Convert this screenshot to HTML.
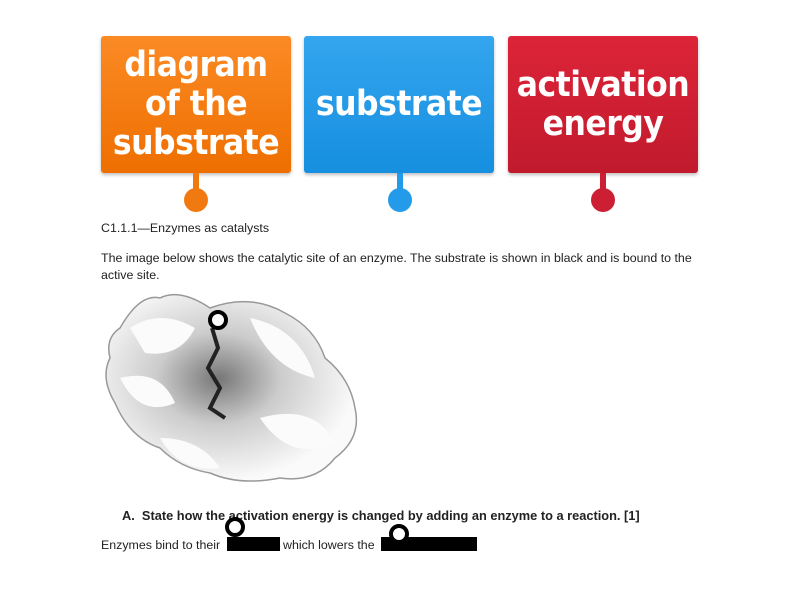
<!DOCTYPE html>
<html><head><style>
body{margin:0;width:800px;height:600px;background:#fff;position:relative;overflow:hidden;font-family:"Liberation Sans",sans-serif}
.b{position:absolute;top:36px;height:137px;width:190px;border-radius:3px;color:#fff;text-align:center;display:flex;align-items:center;justify-content:center;font-size:35px;font-weight:bold;line-height:39px;box-shadow:0 2px 3px rgba(0,0,0,.25);font-family:"DejaVu Sans Condensed","Liberation Sans Narrow",sans-serif;letter-spacing:-0.5px}
.s{position:absolute;top:173px;width:6px;height:20px}
.c{position:absolute;top:188px;width:24px;height:24px;border-radius:50%}
.t{position:absolute;font-size:12.4px;color:#222}
.ring{position:absolute;width:12px;height:12px;border:4px solid #000;border-radius:50%;background:#fff}
</style></head><body>
<div class="b" style="left:101px;background:linear-gradient(#fb8a25,#ee6f00)">diagram<br>of the<br>substrate</div>
<div class="b" style="left:304px;background:linear-gradient(#34a5ee,#168fe0)">substrate</div>
<div class="b" style="left:508px;background:linear-gradient(#dd2438,#c11a2d)">activation<br>energy</div>
<div class="s" style="left:193px;background:#f07a10"></div><div class="c" style="left:184px;background:#f07a10"></div>
<div class="s" style="left:397px;background:#239be8"></div><div class="c" style="left:388px;background:#239be8"></div>
<div class="s" style="left:600px;background:#cc1f33"></div><div class="c" style="left:591px;background:#cc1f33"></div>
<div class="t" style="left:101px;top:221px">C1.1.1—Enzymes as catalysts</div>
<div class="t" style="left:101px;top:250px;line-height:17px;width:600px">The image below shows the catalytic site of an enzyme. The substrate is shown in black and is bound to the active site.</div>
<svg style="position:absolute;left:100px;top:288px" width="270" height="200">
<defs><radialGradient id="g" cx="0.45" cy="0.45" r="0.55"><stop offset="0" stop-color="#777"/><stop offset="0.45" stop-color="#ccc"/><stop offset="1" stop-color="#fafafa"/></radialGradient></defs>
<path d="M20 40 Q40 5 60 10 Q80 0 110 20 Q150 5 185 25 Q215 40 225 70 Q250 90 255 120 Q262 150 235 170 Q215 195 180 190 Q140 198 110 185 Q80 180 60 160 Q30 150 15 115 Q0 90 10 70 Q5 50 20 40Z" fill="url(#g)" stroke="#999" stroke-width="1.5"/>
<path d="M30 40 Q60 20 95 40 Q80 70 45 65Z M150 30 Q200 40 215 90 Q170 80 150 30Z M20 90 Q60 80 75 115 Q40 130 20 90Z M160 130 Q215 115 235 155 Q190 175 160 130Z M60 150 Q100 150 120 180 Q80 185 60 150Z" fill="#fbfbfb"/>
<path d="M112 40 L118 60 L108 80 L120 100 L110 120 L125 130" stroke="#222" stroke-width="4" fill="none"/>
</svg>
<div class="ring" style="left:208px;top:310px"></div>
<div class="t" style="left:122px;top:508px;font-weight:bold;font-size:12.8px">A.&nbsp; State how the activation energy is changed by adding an enzyme to a reaction. [1]</div>
<div class="t" style="left:101px;top:538px">Enzymes bind to their</div>
<div style="position:absolute;left:227px;top:537px;width:53px;height:14px;background:#000"></div>
<div class="t" style="left:283px;top:538px">which lowers the</div>
<div style="position:absolute;left:381px;top:537px;width:96px;height:14px;background:#000"></div>
<div class="ring" style="left:225px;top:517px"></div>
<div class="ring" style="left:389px;top:524px"></div>
</body></html>
